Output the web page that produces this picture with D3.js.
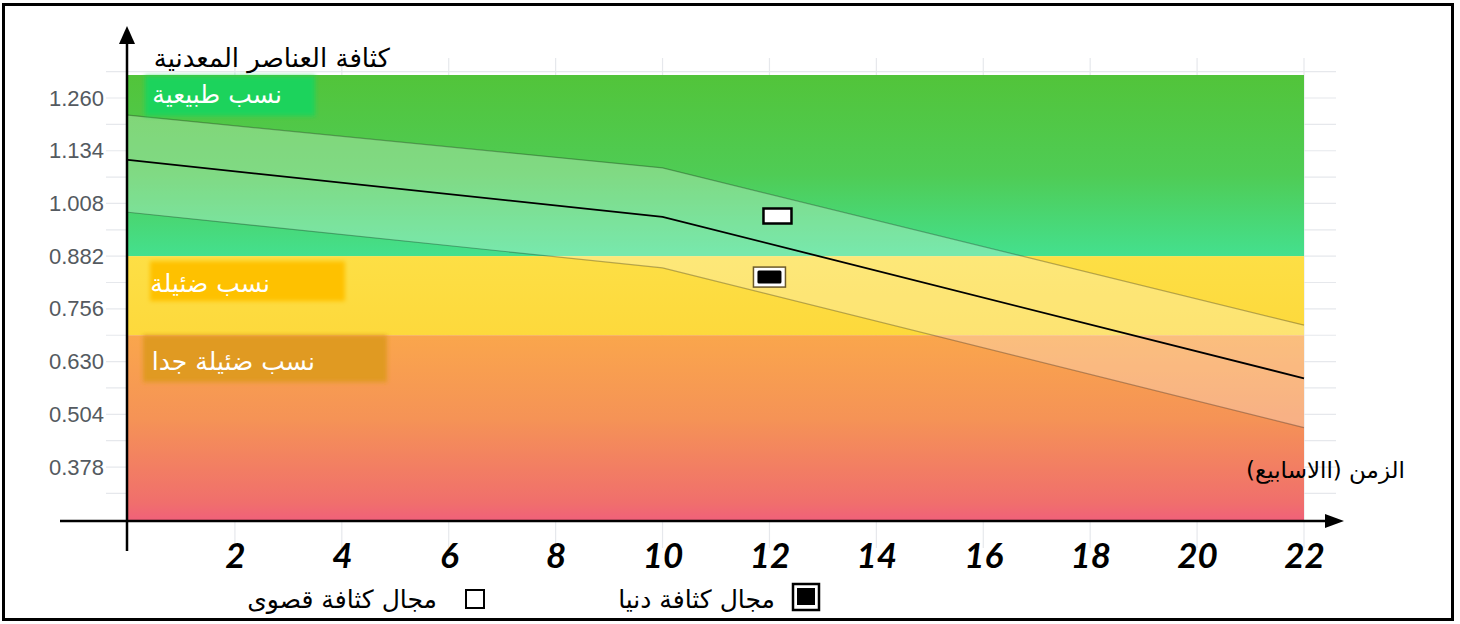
<!DOCTYPE html>
<html><head><meta charset="utf-8">
<script src="https://cdn.jsdelivr.net/npm/d3@7"></script>
<style>
html,body{margin:0;padding:0;background:#fff;}
svg{display:block;}
.ar{font-family:"DejaVu Sans","Noto Sans",sans-serif;}
</style>
</head><body>
<svg id="chart" width="1460" height="624"></svg>
<script>
// ---------- data ----------
const weeks = [0, 10, 22];
const meanDensity = [1.112, 0.976, 0.590];
const upperDensity = [1.219, 1.093, 0.717];
const lowerDensity = [0.987, 0.854, 0.472];

const zoneNames = ["نسب طبيعية", "نسب ضئيلة", "نسب ضئيلة جدا"];
const zoneMin = [0.882, 0.693, 0.249];
const zoneMax = [1.315, 0.882, 0.693];

const yTickValues = [0.378, 0.504, 0.630, 0.756, 0.882, 1.008, 1.134, 1.260];
const xTickValues = [2, 4, 6, 8, 10, 12, 14, 16, 18, 20, 22];

const markerWeeks = [12.15, 12.0];
const markerValues = [0.978, 0.832];
const markerKinds = ["max", "min"];

const legendLabels = ["مجال كثافة قصوى", "مجال كثافة دنيا"];
const yTitle = "كثافة العناصر المعدنية";
const xTitle = "الزمن (االاسابيع)";

// ---------- setup ----------
const svg = d3.select("#chart");
const x = d3.scaleLinear().domain([0, 22]).range([128, 1304]);
const y = d3.scaleLinear().domain([0.249, 1.315]).range([521, 75]);

const defs = svg.append("defs");
const gGreen = defs.append("linearGradient").attr("id","gGreen").attr("x1",0).attr("y1",0).attr("x2",0).attr("y2",1);
gGreen.append("stop").attr("offset","0%").attr("stop-color","#52c43a");
gGreen.append("stop").attr("offset","55%").attr("stop-color","#4fcc55");
gGreen.append("stop").attr("offset","100%").attr("stop-color","#44e08e");
const gYel = defs.append("linearGradient").attr("id","gYel").attr("x1",0).attr("y1",0).attr("x2",0).attr("y2",1);
gYel.append("stop").attr("offset","0%").attr("stop-color","#fddf45");
gYel.append("stop").attr("offset","100%").attr("stop-color","#fdd93c");
const gOr = defs.append("linearGradient").attr("id","gOr").attr("x1",0).attr("y1",0).attr("x2",0).attr("y2",1);
gOr.append("stop").attr("offset","0%").attr("stop-color","#faa64c");
gOr.append("stop").attr("offset","45%").attr("stop-color","#f59356");
gOr.append("stop").attr("offset","90%").attr("stop-color","#f06f6c");
gOr.append("stop").attr("offset","100%").attr("stop-color","#f0607a");
const zoneFills = ["url(#gGreen)", "url(#gYel)", "url(#gOr)"];
const boxFills = ["#1fd35c", "#fec103", "#e09a22"];

const blur = defs.append("filter").attr("id","blur").attr("x","-10%").attr("y","-20%").attr("width","120%").attr("height","140%");
blur.append("feGaussianBlur").attr("stdDeviation", 2);

// frame
svg.append("rect").attr("x",3.5).attr("y",4.5).attr("width",1449).attr("height",615)
  .attr("fill","#fff").attr("stroke","#000").attr("stroke-width",3);

// faint grid
const grid = svg.append("g").attr("stroke","#e6e8ec").attr("stroke-width",1.2);
const halfTicks = d3.range(0, 17).map(i => 0.315 + i * 0.063);
grid.selectAll("line.h").data(halfTicks).join("line")
  .attr("x1",106).attr("x2",1336).attr("y1",d=>y(d)).attr("y2",d=>y(d));
grid.selectAll("line.v").data(xTickValues).join("line")
  .attr("x1",d=>x(d)).attr("x2",d=>x(d)).attr("y1",58).attr("y2",548);

// zones
svg.append("g").selectAll("rect").data(zoneNames).join("rect")
  .attr("x", x(0)).attr("width", x(22) - x(0))
  .attr("y", (d,i) => y(zoneMax[i])).attr("height", (d,i) => y(zoneMin[i]) - y(zoneMax[i]))
  .attr("fill", (d,i) => zoneFills[i]);

// band
const pts = weeks.map((w,i) => ({w, lo: lowerDensity[i], hi: upperDensity[i], m: meanDensity[i]}));
svg.append("path").datum(pts)
  .attr("d", d3.area().x(d=>x(d.w)).y0(d=>y(d.lo)).y1(d=>y(d.hi)))
  .attr("fill","#fff").attr("fill-opacity",0.28);
svg.append("path").datum(pts).attr("d", d3.line().x(d=>x(d.w)).y(d=>y(d.hi)))
  .attr("fill","none").attr("stroke","#000").attr("stroke-opacity",0.28).attr("stroke-width",1.2);
svg.append("path").datum(pts).attr("d", d3.line().x(d=>x(d.w)).y(d=>y(d.lo)))
  .attr("fill","none").attr("stroke","#000").attr("stroke-opacity",0.28).attr("stroke-width",1.2);
const meanPts = pts.map(p => ({w:p.w, m:p.m}));
svg.append("path").datum(meanPts).attr("d", d3.line().x(d=>x(d.w)).y(d=>y(d.m)))
  .attr("fill","none").attr("stroke","#000").attr("stroke-width",1.8);

// zone label boxes
const boxSpec = [
  {dx:17, dy:1, w:170, h:40, tx:282, ty:28, fs:25},
  {dx:22, dy:5, w:195, h:40, tx:270, ty:36, fs:25},
  {dx:15, dy:0, w:244, h:47, tx:315, ty:35, fs:25}
];
const lbl = svg.append("g");
zoneNames.forEach((name,i) => {
  const top = y(zoneMax[i]);
  const s = boxSpec[i];
  lbl.append("rect").attr("x", x(0)+s.dx).attr("y", top+s.dy).attr("width", s.w).attr("height", s.h)
    .attr("fill", boxFills[i]).attr("filter","url(#blur)");
  lbl.append("text").attr("class","ar").attr("x", s.tx).attr("y", top + s.ty)
    .attr("text-anchor","start").attr("direction","rtl").attr("font-size", s.fs)
    .attr("fill","#fff").text(name);
});

// markers
const mk = svg.append("g");
markerKinds.forEach((k,i) => {
  const cx = x(markerWeeks[i]), cy = y(markerValues[i]);
  if (k === "max") {
    mk.append("rect").attr("x",cx-14).attr("y",cy-7.5).attr("width",28).attr("height",15)
      .attr("fill","#fff").attr("stroke","#000").attr("stroke-width",2.5);
  } else {
    mk.append("rect").attr("x",cx-16).attr("y",cy-10).attr("width",32).attr("height",20)
      .attr("fill","#fff").attr("stroke","#6b5a2a").attr("stroke-width",1.5);
    mk.append("rect").attr("x",cx-12).attr("y",cy-6.5).attr("width",24).attr("height",13)
      .attr("fill","#000").attr("rx",1.5);
  }
});

// y axis ticks & labels
const yAxis = svg.append("g").attr("transform","translate(104,0)")
  .call(d3.axisLeft(y).tickValues(yTickValues).tickFormat(d3.format(".3f")).tickSize(0).tickPadding(0));
yAxis.select(".domain").remove();
yAxis.selectAll("text").attr("font-family","'Liberation Sans',Arial,sans-serif")
  .attr("font-size",22).attr("fill","#545a60");

// x axis labels
const xAxis = svg.append("g").attr("transform","translate(0,521)")
  .call(d3.axisBottom(x).tickValues(xTickValues).tickSize(0).tickPadding(0));
xAxis.select(".domain").remove();
xAxis.selectAll("text").attr("font-family","Lato,'DejaVu Sans',sans-serif")
  .attr("font-weight","bold").attr("font-style","italic")
  .attr("font-size",35).attr("fill","#000").attr("dy",0).attr("y",47);

// axis lines with arrows
svg.append("line").attr("x1",127).attr("x2",127).attr("y1",40).attr("y2",551)
  .attr("stroke","#000").attr("stroke-width",2.5);
svg.append("path").attr("d","M127,26 L119,44 L135,44 Z").attr("fill","#000");
svg.append("line").attr("x1",60).attr("x2",1328).attr("y1",521).attr("y2",521)
  .attr("stroke","#000").attr("stroke-width",2.5);
svg.append("path").attr("d","M1344,521 L1325,514 L1325,528 Z").attr("fill","#000");

// titles
svg.append("text").attr("class","ar").attr("x",390).attr("y",67).attr("text-anchor","start")
  .attr("direction","rtl").attr("font-size",26).attr("fill","#000").text(yTitle);
svg.append("text").attr("class","ar").attr("x",1405).attr("y",478).attr("text-anchor","start")
  .attr("direction","rtl").attr("font-size",23).attr("fill","#000").text(xTitle);

// legend
const lg = svg.append("g");
const legSpec = [
  {ix:466, iy:590, is:18, tx:437, ty:608},
  {ix:793, iy:584, is:26, tx:775, ty:608}
];
legendLabels.forEach((t,i) => {
  const s = legSpec[i];
  if (i === 0) {
    lg.append("rect").attr("x",s.ix).attr("y",s.iy).attr("width",s.is).attr("height",s.is)
      .attr("fill","#fff").attr("stroke","#000").attr("stroke-width",2);
  } else {
    lg.append("rect").attr("x",s.ix).attr("y",s.iy).attr("width",s.is).attr("height",s.is)
      .attr("fill","#fff").attr("stroke","#000").attr("stroke-width",2.5);
    lg.append("rect").attr("x",s.ix+4).attr("y",s.iy+4).attr("width",s.is-8).attr("height",s.is-9)
      .attr("fill","#000");
  }
  lg.append("text").attr("class","ar").attr("x",s.tx).attr("y",s.ty).attr("text-anchor","start")
    .attr("direction","rtl").attr("font-size",25).attr("fill","#000").text(t);
});
</script>
</body></html>
